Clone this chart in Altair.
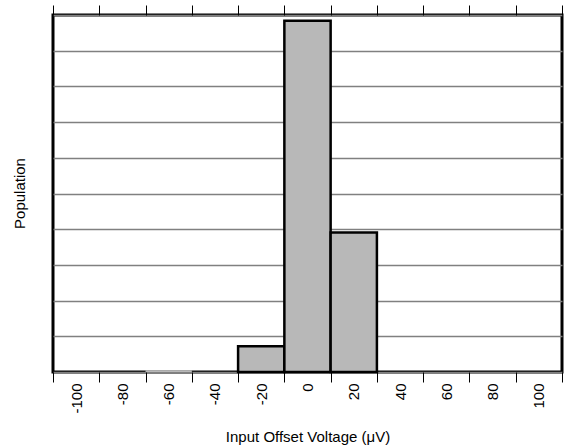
import altair as alt
import pandas as pd

# Histogram bins of input offset voltage (µV): bin centers and heights (grid units)
bin_centers = [-100, -80, -60, -40, -20, 0, 20, 40, 60, 80, 100]
population = [0, 0, 0.05, 0, 0.72, 9.84, 3.91, 0, 0, 0, 0]
bin_width = 20

# Bin edges used for the tick marks on both horizontal axes
bin_edges = [c - bin_width / 2 for c in bin_centers] + [bin_centers[-1] + bin_width / 2]
grid_levels = list(range(0, 11))

df = pd.DataFrame({
    "center": bin_centers,
    "count": population,
})
df["lo"] = df["center"] - bin_width / 2
df["hi"] = df["center"] + bin_width / 2

FONT = "Liberation Sans"
x_scale = alt.Scale(domain=[bin_edges[0], bin_edges[-1]], nice=False, zero=False)
y_scale = alt.Scale(domain=[0, 10], nice=False)

# Shared y axis: grid lines only, plus the title
y_axis = alt.Axis(
    values=grid_levels,
    grid=True,
    gridColor="#808080",
    gridWidth=1.5,
    labels=False,
    ticks=False,
    domain=False,
    title="Population",
    titleFont=FONT,
    titleFontSize=15,
    titleFontWeight="normal",
    titleColor="black",
    titleBaseline="alphabetic",
    titleX=-29,
    titleY=178,
)

base = alt.Chart(df)

# Bars, with the labelled bottom axis
bars = base.mark_rect(fill="#b8b8b8", stroke="black", strokeWidth=2.5).encode(
    x=alt.X(
        "lo:Q",
        scale=x_scale,
        axis=alt.Axis(
            orient="bottom",
            values=bin_centers,
            labelExpr="'' + datum.value",
            labelAngle=-90,
            labelAlign="right",
            labelBaseline="middle",
            labelFont=FONT,
            labelFontSize=15,
            labelColor="black",
            labelPadding=1,
            tickSize=10,
            tickOpacity=0,
            domain=False,
            grid=False,
            title="Input Offset Voltage (\u03bcV)",
            titleFont=FONT,
            titleFontSize=15,
            titleFontWeight="normal",
            titleColor="black",
            titleBaseline="alphabetic",
            titleY=69,
        ),
    ),
    x2="hi:Q",
    y=alt.Y("count:Q", scale=y_scale, axis=y_axis),
    y2=alt.datum(0),
    strokeOpacity=alt.condition("datum.count > 0.2", alt.value(1), alt.value(0)),
)


def edge_ticks(orient):
    """Invisible layer that carries an axis of tick marks at the bin edges."""
    return base.mark_rect(opacity=0).encode(
        x=alt.X(
            "lo:Q",
            scale=x_scale,
            axis=alt.Axis(
                orient=orient,
                values=bin_edges,
                labels=False,
                tickSize=10,
                tickColor="black",
                tickWidth=1,
                domain=False,
                grid=False,
                title=None,
            ),
        ),
        x2="hi:Q",
        y=alt.Y("count:Q", scale=y_scale, axis=y_axis),
        y2=alt.datum(0),
    )


chart = (
    alt.layer(bars, edge_ticks("bottom"), edge_ticks("top"))
    .resolve_axis(x="independent")
    .properties(
        width=509,
        height=357,
        autosize=alt.AutoSizeParams(type="none"),
        padding={"left": 53, "top": 15, "right": 8, "bottom": 75},
        background="white",
    )
    .configure_view(stroke="black", strokeWidth=3)
)

chart.save("out.html", embed_options={"renderer": "svg", "actions": False})
